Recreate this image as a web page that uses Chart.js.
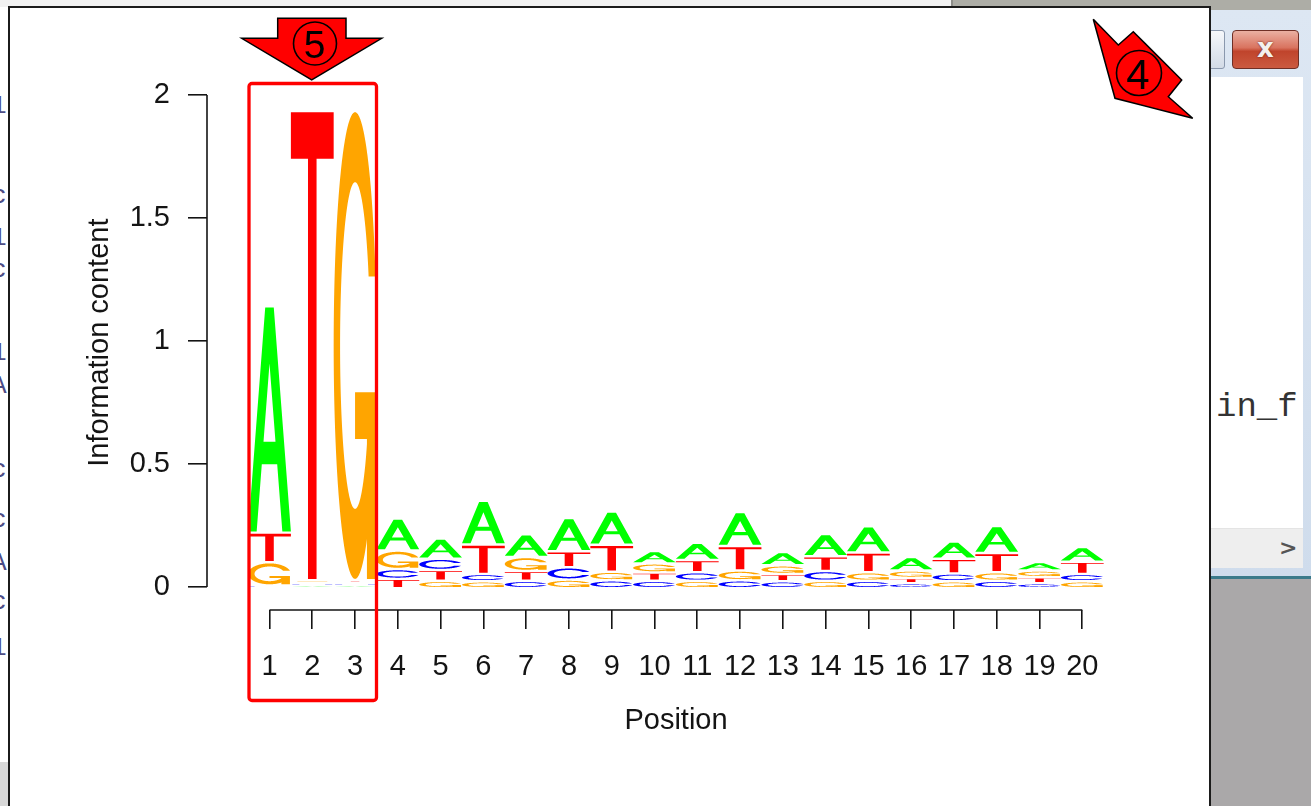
<!DOCTYPE html>
<html>
<head>
<meta charset="utf-8">
<title>Sequence logo</title>
<script src="https://cdn.jsdelivr.net/npm/chart.js@4.4.1/dist/chart.umd.min.js"></script>
<style>
  html, body { margin: 0; padding: 0; width: 1311px; height: 806px; overflow: hidden; background: #fff; }
  .abs { position: absolute; }
  #topL { left: 0; top: 0; width: 951px; height: 7px; background: #f1f1f1; }
  #topSep { left: 951px; top: 0; width: 2px; height: 9px; background: #8e8e8a; }
  #topR { left: 953px; top: 0; width: 358px; height: 10px; background: #adada6; }
  #console { left: 0; top: 7px; width: 8px; height: 799px; background: #fff; overflow: hidden; }
  #console span { position: absolute; left: -9px; font: 26px "Liberation Mono", monospace; color: #4c4c86; line-height: 1; }
  #consoleFoot { left: 0; top: 762px; width: 8px; height: 44px; background: #d8d8d8; }
  #rframe { left: 1211px; top: 10px; width: 100px; height: 567px; background: linear-gradient(#dde7f3, #cfdcec); }
  #rmax { left: 1194px; top: 30px; width: 29px; height: 37px; border: 1px solid #8a98ad; border-radius: 3px;
          background: linear-gradient(#f6f8fb, #e3e9f1 50%, #d3dbe6); }
  #rclose { left: 1232px; top: 30px; width: 65px; height: 37px; border: 1px solid #6f2f25; border-radius: 4px;
            background: linear-gradient(#eab0a2 0%, #d9735f 45%, #c0442c 55%, #cb5a40 100%);
            color: #f4f0ee; font: bold 26px "DejaVu Sans", sans-serif; text-align: center; line-height: 35px;
            text-shadow: 0 0 2px #5a1a10; }
  #rcontent { left: 1211px; top: 77px; width: 92px; height: 451px; background: #fff; }
  #rtext { left: 1216px; top: 390px; font: 34px "Liberation Mono", monospace; color: #333; line-height: 1; }
  #rscroll { left: 1211px; top: 528px; width: 92px; height: 39px; background: #eeeeee; border-top: 1px solid #e4e4e4; }
  #rscroll span { position: absolute; left: 68px; top: 6px; font: bold 22px "DejaVu Sans", sans-serif; color: #555; }
  #rline { left: 1211px; top: 576px; width: 100px; height: 3px; background: #3b7a8a; }
  #rgrey { left: 1211px; top: 579px; width: 100px; height: 227px; background: #aaa8a9; }
  #plotwin { left: 8px; top: 6px; width: 1203px; height: 820px; box-sizing: border-box;
             border: 2px solid #1b1b1b; background: #fff; }
  #logo { left: 0; top: 0; }
  #marks { left: 0; top: 0; }
</style>
</head>
<body>
<div id="topL" class="abs"></div>
<div id="topSep" class="abs"></div>
<div id="topR" class="abs"></div>

<div id="console" class="abs">
  <span style="top:86px">1</span>
  <span style="top:176px">c</span>
  <span style="top:218px">1</span>
  <span style="top:250px">c</span>
  <span style="top:333px">1</span>
  <span style="top:366px">A</span>
  <span style="top:450px">c</span>
  <span style="top:500px">c</span>
  <span style="top:543px">A</span>
  <span style="top:582px">c</span>
  <span style="top:628px">1</span>
</div>
<div id="consoleFoot" class="abs"></div>

<div id="rframe" class="abs"></div>
<div id="rmax" class="abs"></div>
<div id="rclose" class="abs">x</div>
<div id="rcontent" class="abs"></div>
<div id="rtext" class="abs">in_f</div>
<div id="rscroll" class="abs"><span>&gt;</span></div>
<div id="rline" class="abs"></div>
<div id="rgrey" class="abs"></div>

<div id="plotwin" class="abs"></div>
<canvas id="logo" class="abs" width="1311" height="806"></canvas>

<svg id="marks" class="abs" width="1311" height="806" xmlns="http://www.w3.org/2000/svg">
  <rect x="249" y="83.5" width="127.5" height="617" rx="3" fill="none" stroke="#ff0000" stroke-width="3.3"/>
  <polygon points="277.7,18.3 346,18.3 346,38.3 381.7,38.3 311.7,80 241.7,38.3 277.7,38.3"
           fill="#ff0000" stroke="#000" stroke-width="1.5"/>
  <circle cx="315" cy="43.5" r="21.5" fill="none" stroke="#000" stroke-width="1.6"/>
  <text x="314.5" y="58" text-anchor="middle" font-family="Liberation Sans" font-size="39" fill="#000">5</text>
  <polygon points="1093.3,19.3 1118.3,45 1133.3,31.7 1181.7,80 1168.3,96.7 1192.7,118.3 1115,98.3"
           fill="#ff0000" stroke="#000" stroke-width="1.5"/>
  <circle cx="1139" cy="73" r="22.5" fill="none" stroke="#000" stroke-width="1.6"/>
  <text x="1138" y="89" text-anchor="middle" font-family="Liberation Sans" font-size="42" fill="#000">4</text>
</svg>

<script>
// Positions along the motif and per-letter information content (bits)
const positions = [1, 2, 3, 4, 5, 6, 7, 8, 9, 10, 11, 12, 13, 14, 15, 16, 17, 18, 19, 20];
const heightA = [0.910, 0.001, 0.001, 0.120, 0.072, 0.168, 0.082, 0.125, 0.125, 0.040,
                 0.060, 0.128, 0.044, 0.080, 0.097, 0.045, 0.060, 0.100, 0.025, 0.050];
const heightC = [0.001, 0.001, 0.001, 0.030, 0.036, 0.020, 0.020, 0.040, 0.022, 0.020,
                 0.025, 0.022, 0.018, 0.030, 0.020, 0.010, 0.022, 0.020, 0.010, 0.020];
const heightG = [0.085, 0.001, 1.897, 0.065, 0.020, 0.018, 0.047, 0.025, 0.025, 0.027,
                 0.020, 0.030, 0.025, 0.020, 0.025, 0.020, 0.018, 0.025, 0.017, 0.018];
const heightT = [0.110, 1.897, 0.001, 0.028, 0.034, 0.110, 0.030, 0.055, 0.100, 0.024,
                 0.040, 0.090, 0.020, 0.050, 0.070, 0.012, 0.050, 0.068, 0.015, 0.040];
const yTickValues = [0, 0.5, 1, 1.5, 2];

const LETTER_GAP = 0.01;   // vertical space between stacked letters
const FONT = '"Liberation Sans", Arial, sans-serif';
const INK = '#141414';

// Letter outlines in a unit box (x right, y up)
const A_SHAPE = [
  [[0,0],[0.4,1],[0.6,1],[1,0],[0.8,0],[0.68,0.3],[0.32,0.3],[0.2,0]],
  [[0.36,0.4],[0.5,0.75],[0.64,0.4]]
];
const T_SHAPE = [[[0,1],[1,1],[1,0.9],[0.6,0.9],[0.6,0],[0.4,0],[0.4,0.9],[0,0.9]]];

function ringC() {
  const n = 100;
  const seq = (a, b) => Array.from({length: n}, (_, k) => a + (b - a) * k / (n - 1));
  const a1 = seq(0.3 + Math.PI / 2, Math.PI), a2 = seq(Math.PI, 1.5 * Math.PI);
  const xl = [...a1, ...a2].map(a => 0.5 + 0.5 * Math.sin(a));
  const yl = [...a1, ...a2].map(a => 0.5 + 0.5 * Math.cos(a));
  const yl1max = Math.max(...a1.map(a => 0.5 + 0.5 * Math.cos(a)));
  const xo = [...xl, ...xl.slice().reverse()];
  const yo = [...yl, ...yl.slice().reverse().map(v => 1 - v)];
  let xi1 = a1.map(a => 0.5 + 0.35 * Math.sin(a)), yi1 = a1.map(a => 0.5 + 0.35 * Math.cos(a));
  const keep = yi1.map(v => v <= yl1max);
  xi1 = xi1.filter((_, k) => keep[k]); yi1 = yi1.filter((_, k) => keep[k]);
  yi1[0] = yl1max;
  const xi = [...xi1, ...a2.map(a => 0.5 + 0.35 * Math.sin(a))];
  const yi = [...yi1, ...a2.map(a => 0.5 + 0.35 * Math.cos(a))];
  const xin = [...xi, ...xi.slice().reverse()];
  const yin = [...yi, ...yi.slice().reverse().map(v => 1 - v)];
  const xs = [...xo, ...xin.slice().reverse()], ys = [...yo, ...yin.slice().reverse()];
  return xs.map((u, k) => [u, ys[k]]);
}
const C_RING = ringC();
const R1 = 0.5 + 0.5 * Math.sin(0.3 + Math.PI / 2);
const C_SHAPE = [C_RING];
const G_SHAPE = [C_RING, [[R1,0.4],[0.5,0.4],[0.5,0.3],[R1-0.2,0.3],[R1-0.2,0],[R1,0]]];

const LETTERS = {
  A: {shape: A_SHAPE, color: '#00ff00', evenodd: true},
  C: {shape: C_SHAPE, color: '#0000ff'},
  G: {shape: G_SHAPE, color: '#ffa500'},
  T: {shape: T_SHAPE, color: '#ff0000'}
};

function drawLetter(ctx, key, x0, x1, yBottom, yTop) {
  const L = LETTERS[key];
  const w = x1 - x0, h = yTop - yBottom;
  ctx.fillStyle = L.color;
  if (L.evenodd) {
    ctx.beginPath();
    L.shape.forEach(poly => {
      poly.forEach(([u, v], k) => k ? ctx.lineTo(x0 + u * w, yBottom + v * h) : ctx.moveTo(x0 + u * w, yBottom + v * h));
      ctx.closePath();
    });
    ctx.fill('evenodd');
  } else {
    L.shape.forEach(poly => {
      ctx.beginPath();
      poly.forEach(([u, v], k) => k ? ctx.lineTo(x0 + u * w, yBottom + v * h) : ctx.moveTo(x0 + u * w, yBottom + v * h));
      ctx.closePath();
      ctx.fill();
    });
  }
}

// Stacks letters per position, smallest at the bottom
const logoPlugin = {
  id: 'logoLetters',
  afterDatasetsDraw(chart) {
    const {ctx, scales: {x, y}} = chart;
    ctx.save();
    positions.forEach((p, i) => {
      const col = [
        {k: 'A', h: heightA[i]}, {k: 'C', h: heightC[i]},
        {k: 'G', h: heightG[i]}, {k: 'T', h: heightT[i]}
      ].sort((a, b) => a.h - b.h);
      const x0 = x.getPixelForValue(p - 0.5), x1 = x.getPixelForValue(p + 0.5);
      let base = 0;
      col.forEach(c => {
        if (c.h > 0) drawLetter(ctx, c.k, x0, x1, y.getPixelForValue(base), y.getPixelForValue(base + c.h));
        base += c.h + LETTER_GAP;
      });
    });
    ctx.restore();
  }
};

// Axis lines spanning only the first to the last tick
const axisLinePlugin = {
  id: 'axisLines',
  afterDraw(chart) {
    const {ctx, chartArea, scales: {x, y}} = chart;
    ctx.save();
    ctx.strokeStyle = INK;
    ctx.lineWidth = 1.6;
    ctx.beginPath();
    ctx.moveTo(x.getPixelForValue(positions[0]), chartArea.bottom);
    ctx.lineTo(x.getPixelForValue(positions[positions.length - 1]), chartArea.bottom);
    ctx.moveTo(chartArea.left, y.getPixelForValue(yTickValues[0]));
    ctx.lineTo(chartArea.left, y.getPixelForValue(yTickValues[yTickValues.length - 1]));
    ctx.stroke();
    ctx.restore();
  }
};

const totals = positions.map((p, i) => heightA[i] + heightC[i] + heightG[i] + heightT[i] + 3 * LETTER_GAP);

new Chart(document.getElementById('logo'), {
  type: 'scatter',
  data: {
    datasets: [{
      label: 'Information content',
      data: positions.map((p, i) => ({x: p, y: totals[i]})),
      pointRadius: 0,
      showLine: false
    }]
  },
  options: {
    responsive: false,
    animation: false,
    devicePixelRatio: 1,
    layout: {padding: {left: 80, top: 75.3, right: 166, bottom: 0}},
    plugins: {legend: {display: false}, tooltip: {enabled: false}},
    scales: {
      x: {
        type: 'linear',
        min: -0.461,
        max: 21.466,
        afterBuildTicks: s => { s.ticks = positions.map(v => ({value: v})); },
        afterFit: s => { s.height = 196; },
        ticks: {autoSkip: false, maxRotation: 0, padding: 21, color: INK,
                font: {family: FONT, size: 29}, callback: v => String(v)},
        grid: {drawOnChartArea: false, drawTicks: true, tickLength: 19, color: INK, lineWidth: 1.6},
        border: {display: false},
        title: {display: true, text: 'Position', color: INK,
                font: {family: FONT, size: 29}, padding: {top: 0, bottom: 68}}
      },
      y: {
        type: 'linear',
        min: -0.0935,
        max: 2.08,
        afterBuildTicks: s => { s.ticks = yTickValues.map(v => ({value: v})); },
        afterFit: s => { s.width = 127; },
        ticks: {padding: 18, color: INK, font: {family: FONT, size: 29}, callback: v => String(v)},
        grid: {drawOnChartArea: false, drawTicks: true, tickLength: 19, color: INK, lineWidth: 1.6},
        border: {display: false},
        title: {display: true, text: 'Information content', color: INK,
                font: {family: FONT, size: 29}, padding: {top: 3, bottom: 0}}
      }
    }
  },
  plugins: [logoPlugin, axisLinePlugin]
});
</script>
</body>
</html>
